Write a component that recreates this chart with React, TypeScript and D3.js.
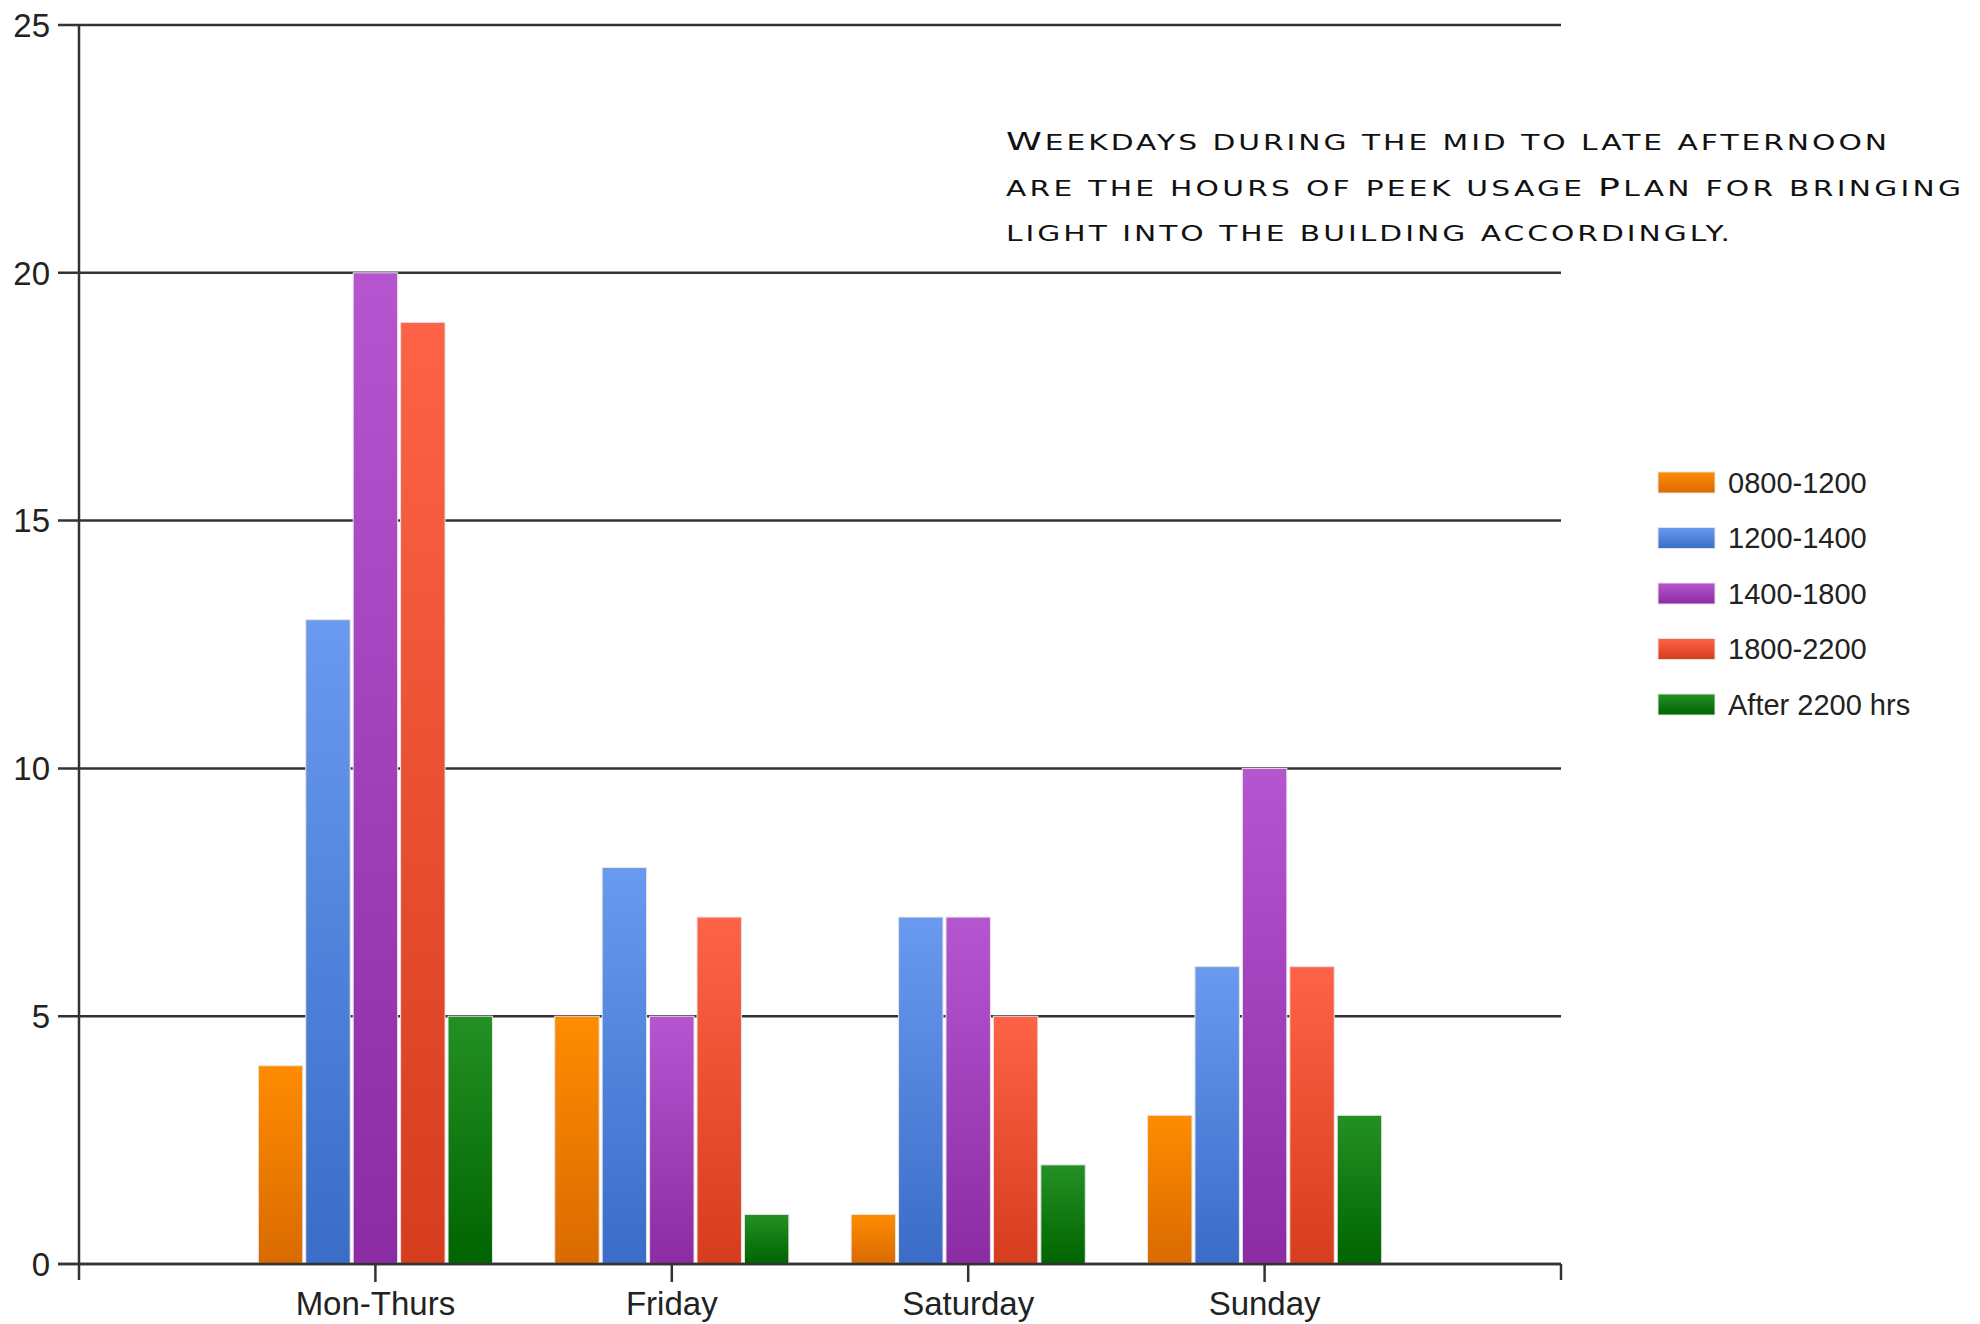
import React from "react";
import * as d3 from "d3";

// Usage counts per time slot, grouped by day range
const categories = ["Mon-Thurs", "Friday", "Saturday", "Sunday"];
const seriesNames = ["0800-1200", "1200-1400", "1400-1800", "1800-2200", "After 2200 hrs"];
const slot0800 = [4, 5, 1, 3];
const slot1200 = [13, 8, 7, 6];
const slot1400 = [20, 5, 7, 10];
const slot1800 = [19, 7, 5, 6];
const slotAfter2200 = [5, 1, 2, 3];
const yTicks = [0, 5, 10, 15, 20, 25];
const noteLines = [
  "Weekdays during the mid to late afternoon",
  "are the hours of peek usage Plan for bringing",
  "light into the building accordingly.",
];

const seriesValues = [slot0800, slot1200, slot1400, slot1800, slotAfter2200];
const palette = [
  { top: "#ff8c00", bottom: "#d96a00" },
  { top: "#6a9aef", bottom: "#3a6cc8" },
  { top: "#b655d0", bottom: "#8c2ca4" },
  { top: "#ff6347", bottom: "#d63c1e" },
  { top: "#249024", bottom: "#006400" },
];

const W = 1980;
const H = 1324;
const axisX = 79;
const axisRight = 1561;
const plotTop = 25;
const plotBottom = 1264;

// split a string into runs of capitals and non-capitals for small-caps rendering
function capRuns(s: string) {
  const runs: { big: boolean; t: string }[] = [];
  for (const ch of s) {
    const big = ch !== ch.toLowerCase();
    const last = runs[runs.length - 1];
    if (last && last.big === big) last.t += ch;
    else runs.push({ big, t: ch });
  }
  return runs;
}

export default function App() {
  const y = d3.scaleLinear().domain([0, 25]).range([plotBottom, plotTop]);
  // categories sit at 1..4 on a 0..5 linear axis
  const x = d3.scaleLinear().domain([0, categories.length + 1]).range([axisX, axisRight]);
  const step = x(1) - x(0);
  const groupWidth = step * 0.8;
  const inner = d3
    .scaleBand<number>()
    .domain(d3.range(seriesNames.length))
    .range([-groupWidth / 2, groupWidth / 2])
    .paddingInner(0);
  const bw = inner.bandwidth();

  const noteWidths = [881, 955, 724];
  const stretch = 1.45;

  return (
    <svg
      width={W}
      height={H}
      style={{ position: "absolute", left: 0, top: 0, background: "#fff" }}
      fontFamily="'Liberation Sans', Arial, sans-serif"
    >
      <defs>
        {palette.map((p, i) => (
          <linearGradient key={i} id={`g${i}`} x1="0" y1="0" x2="0" y2="1">
            <stop offset="0%" stopColor={p.top} />
            <stop offset="100%" stopColor={p.bottom} />
          </linearGradient>
        ))}
      </defs>
      <rect width={W} height={H} fill="#fff" />

      {/* horizontal gridlines + y labels */}
      {yTicks.map((t) => (
        <g key={t}>
          <line x1={58} x2={axisRight} y1={y(t)} y2={y(t)} stroke="#333" strokeWidth={2.5} />
          <text x={50} y={y(t)} dy="0.36em" textAnchor="end" fontSize={33} fill="#222">
            {t}
          </text>
        </g>
      ))}

      {/* y axis line */}
      <line x1={axisX} x2={axisX} y1={plotTop} y2={plotBottom + 16} stroke="#333" strokeWidth={2.5} />
      {/* right end tick */}
      <line x1={axisRight} x2={axisRight} y1={plotBottom} y2={plotBottom + 16} stroke="#333" strokeWidth={2.5} />

      {/* bars */}
      {categories.map((c, ci) => (
        <g key={c}>
          {seriesValues.map((vals, si) => {
            const bx = x(ci + 1) + (inner(si) as number) + 1.5;
            const by = y(vals[ci]);
            return (
              <rect
                key={si}
                x={bx}
                y={by}
                width={bw - 3}
                height={plotBottom - by}
                fill={`url(#g${si})`}
                stroke="#e4e4e4"
                strokeWidth={1}
              />
            );
          })}
        </g>
      ))}

      {/* baseline drawn over bars */}
      <line x1={58} x2={axisRight} y1={plotBottom} y2={plotBottom} stroke="#333" strokeWidth={2.5} />

      {/* category ticks + labels */}
      {categories.map((c, ci) => (
        <g key={c}>
          <line x1={x(ci + 1)} x2={x(ci + 1)} y1={plotBottom} y2={plotBottom + 18} stroke="#333" strokeWidth={2.5} />
          <text x={x(ci + 1)} y={1315} textAnchor="middle" fontSize={33} fill="#222">
            {c}
          </text>
        </g>
      ))}

      {/* legend */}
      {seriesNames.map((s, i) => (
        <g key={s} transform={`translate(1658, ${472 + i * 55.5})`}>
          <rect width={57} height={21} fill={`url(#g${i})`} stroke="#e4e4e4" strokeWidth={1} />
          <text x={70} y={10.5} dy="0.36em" fontSize={29} fill="#222">
            {s}
          </text>
        </g>
      ))}

      {/* annotation in wide small caps */}
      {noteLines.map((line, i) => (
        <text
          key={i}
          transform={`translate(1006, ${150 + i * 45.5}) scale(${stretch}, 1)`}
          x={0}
          y={0}
          fontFamily="'DejaVu Sans', sans-serif"
          textLength={noteWidths[i] / stretch}
          lengthAdjust="spacing"
          fill="#111"
        >
          {capRuns(line).map((r, k) => (
            <tspan key={k} fontSize={r.big ? 25 : 20.5}>
              {r.t.toUpperCase()}
            </tspan>
          ))}
        </text>
      ))}
    </svg>
  );
}
